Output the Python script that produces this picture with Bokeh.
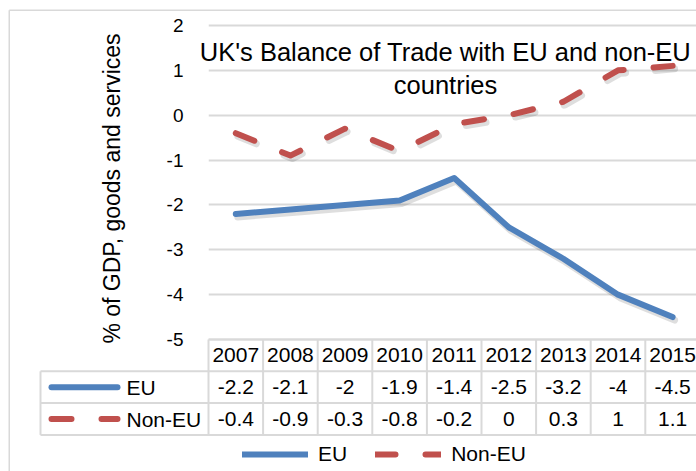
import math
from bokeh.plotting import figure
from bokeh.models import Range1d, FixedTicker, Legend, LegendItem
from bokeh.core.properties import value
from bokeh.embed import file_html
from bokeh.resources import INLINE

# ---------------- data ----------------
years = ["2007", "2008", "2009", "2010", "2011", "2012", "2013", "2014", "2015"]
eu = [-2.2, -2.1, -2.0, -1.9, -1.4, -2.5, -3.2, -4.0, -4.5]
non_eu = [-0.4, -0.9, -0.3, -0.8, -0.2, 0.0, 0.3, 1.0, 1.1]
y_ticks = [-5, -4, -3, -2, -1, 0, 1, 2]
series_names = ["EU", "Non-EU"]
title_lines = ["UK's Balance of Trade with EU and non-EU", "countries"]
y_label = "% of GDP, goods and services"

# ---------------- layout (canvas pixels) ----------------
W, H = 696, 471
FRAME_L = 208            # left edge of plot area
COL_W = 54.6             # width of one category column
Y2_PX, YM5_PX = 25, 339  # canvas y of y=2 and y=-5
PPU = (YM5_PX - Y2_PX) / 7.0
ROW_TOP, ROW_H = 339, 31.8
KEY_L = 40

FONT = "Liberation Sans"
BLUE = "#4F81BD"
RED = "#C0504D"
GRID = "#D9D9D9"
DASH = "20 30"


def px_x(cx):
    return (cx - FRAME_L) / COL_W


def px_y(cy):
    return 2 + (Y2_PX - cy) / PPU


x_end = px_x(W)
y_end = px_y(0)
y_start = px_y(H)

p = figure(width=W, height=H, x_range=Range1d(0, x_end), y_range=Range1d(y_start, y_end),
           output_backend="svg", toolbar_location=None, x_axis_location=None,
           min_border_left=FRAME_L, min_border_right=0, min_border_top=0, min_border_bottom=0)
p.outline_line_color = None
p.background_fill_color = "white"
p.border_fill_color = "white"
p.xgrid.visible = False

ticker = FixedTicker(ticks=y_ticks)
p.yaxis.ticker = ticker
p.ygrid.ticker = ticker
p.ygrid.grid_line_color = GRID
p.ygrid.grid_line_width = 2
p.yaxis.axis_line_color = None
p.yaxis.major_tick_line_color = None
p.yaxis.minor_tick_line_color = None
p.yaxis.major_label_standoff = 19
p.yaxis.major_label_text_font = FONT
p.yaxis.major_label_text_font_size = "19px"
p.yaxis.major_label_text_color = "black"
p.yaxis.major_label_overrides = {t: str(t) for t in y_ticks}

xs = [i + 0.5 for i in range(len(years))]

# shadows
sdx, sdy = 2 / COL_W, 3 / PPU
p.line([x + sdx for x in xs], [v - sdy for v in eu], line_color="black", line_alpha=0.13,
       line_width=7, line_cap="round", line_join="round")
p.line([x + sdx for x in xs], [v - sdy for v in non_eu], line_color="black", line_alpha=0.13,
       line_width=7, line_dash=DASH, line_cap="round", line_join="round")

r_eu = p.line(xs, eu, line_color=BLUE, line_width=6, line_cap="round", line_join="round")
r_non = p.line(xs, non_eu, line_color=RED, line_width=6, line_dash=DASH,
               line_cap="round", line_join="round")

# ---------------- data table ----------------
tbl_start = (H - ROW_TOP) / ROW_H
tbl_end = (0 - ROW_TOP) / ROW_H
p.extra_y_ranges = {"tbl": Range1d(start=tbl_start, end=tbl_end)}
key_l = px_x(KEY_L)
ncol = len(years)
right = x_end + 0.5

h_x0 = [0, key_l, key_l, key_l]
h_y = [0, 1, 2, 3]
h_x1 = [right] * 4
v_x = list(range(ncol + 1)) + [key_l]
v_y0 = [0] * (ncol + 1) + [1]
v_y1 = [3] * (ncol + 2)
p.segment(x0=h_x0, y0=h_y, x1=h_x1, y1=h_y, line_color=GRID, line_width=2,
          y_range_name="tbl", level="overlay")
p.segment(x0=v_x, y0=v_y0, x1=v_x, y1=v_y1, line_color=GRID, line_width=2,
          y_range_name="tbl", level="overlay")


def fmt(v):
    return f"{v:g}"


cell_x = xs * 3
cell_y = [0.5] * ncol + [1.5] * ncol + [2.5] * ncol
cell_t = years + [fmt(v) for v in eu] + [fmt(v) for v in non_eu]
p.text(x=cell_x, y=cell_y, text=cell_t, text_align="center", text_baseline="middle",
       text_font=value(FONT), text_font_size="21px", text_color="black",
       y_range_name="tbl", level="overlay")

# key column of the table (legend keys + series names)
k0, k1 = px_x(51), px_x(117)
p.segment(x0=[k0], y0=[1.5], x1=[k1], y1=[1.5], line_color=BLUE, line_width=6,
          line_cap="round", y_range_name="tbl", level="overlay")
p.segment(x0=[k0], y0=[2.5], x1=[k1], y1=[2.5], line_color=RED, line_width=6,
          line_dash=DASH, line_cap="round", y_range_name="tbl", level="overlay")
p.text(x=[px_x(126)] * 2, y=[1.5, 2.5], text=series_names, text_align="left",
       text_baseline="middle", text_font=value(FONT), text_font_size="21px",
       text_color="black", y_range_name="tbl", level="overlay")

# bottom legend
bot_leg = Legend(items=[LegendItem(label=series_names[0], renderers=[r_eu]),
                        LegendItem(label=series_names[1], renderers=[r_non])],
                 location=(242 - FRAME_L, H - 467),
                 orientation="horizontal", glyph_width=66, glyph_height=26, label_height=26,
                 label_standoff=10, spacing=28, padding=0, margin=0,
                 border_line_color=None, background_fill_alpha=0,
                 label_text_font=FONT, label_text_font_size="21px", label_text_color="black")
p.add_layout(bot_leg)

# ---------------- texts ----------------
p.text(x=[px_x(445)] * 2, y=[px_y(51), px_y(84)], text=title_lines, text_align="center",
       text_baseline="middle", text_font=value(FONT), text_font_size="25.5px",
       text_color="black", level="overlay")

p.text(x=[px_x(111)], y=[px_y(188)], text=[y_label], angle=math.pi / 2,
       text_align="center", text_baseline="middle", text_font=value(FONT),
       text_font_size="23px", text_color="black", level="overlay")

# chart outer border (left and top)
bx = px_x(8.75)
by = px_y(9.75)
p.segment(x0=[bx, bx], y0=[y_start, by], x1=[bx, right], y1=[by, by],
          line_color=GRID, line_width=1.5, level="overlay")

open("out.html", "w").write(file_html(p, INLINE))
